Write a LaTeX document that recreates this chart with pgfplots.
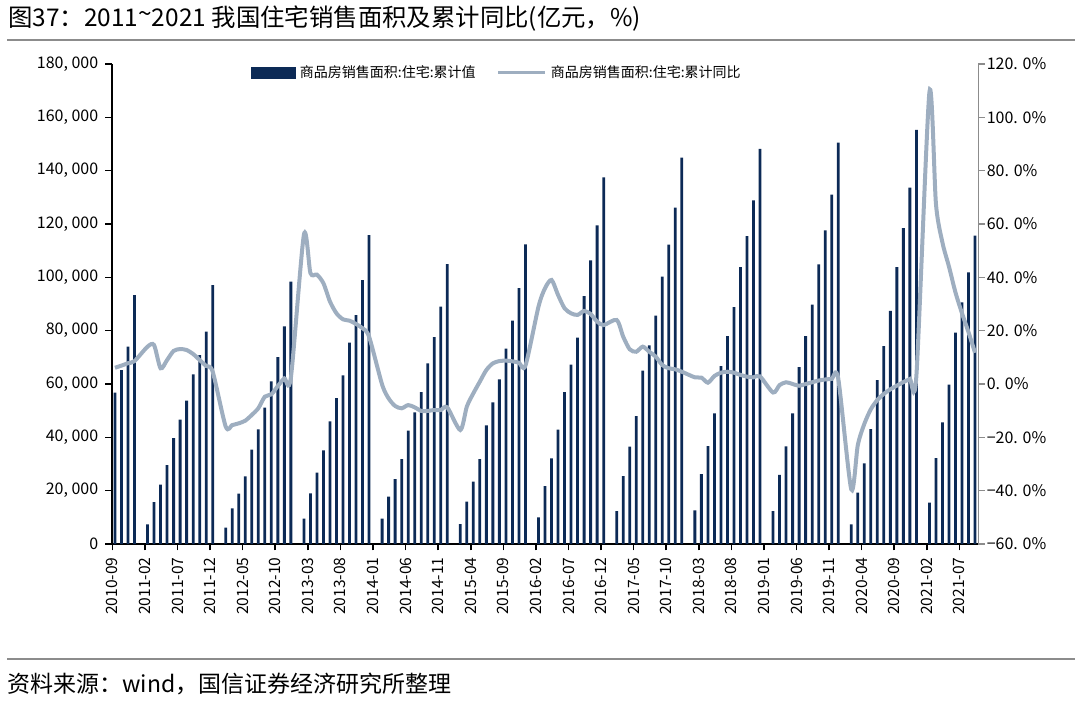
\documentclass[border=0pt]{standalone}
\usepackage{pgfplots}
\pgfplotsset{compat=1.18}
\usepackage{pgfplotstable}
\usepackage{fontspec}
\setmainfont{Noto Sans CJK SC}
\definecolor{barc}{RGB}{12,42,86}
\definecolor{linec}{RGB}{158,174,192}
\definecolor{rulec}{RGB}{140,140,140}

\pgfplotstableread{
idx area yoy
0 56740 6.1
1 65250 6.9
2 74000 7.8
3 93375 8.6
5 7375 14.0
6 15750 14.6
7 22250 5.9
8 29625 9.0
9 39750 12.4
10 46625 13.1
11 53750 12.75
12 63625 11.25
13 70875 9.0
14 79625 6.75
15 97125 4.6
17 6125 -16.0
18 13375 -15.4
19 18875 -14.75
20 25375 -13.75
21 35375 -11.6
22 43000 -9.1
23 51125 -4.75
24 61000 -3.9
25 70125 -0.75
26 81625 2.1
27 98375 2.4
29 9500 56.0
30 19000 41.6
31 26750 41.0
32 35125 37.75
33 46000 30.9
34 54750 26.5
35 63250 24.25
36 75500 23.75
37 85875 22.5
38 99000 20.9
39 115875 17.75
41 9500 -0.2
42 17750 -5.4
43 24375 -8.25
44 31875 -9.1
45 42500 -7.9
46 49375 -8.75
47 57000 -10.1
48 67750 -10.1
49 77600 -9.75
50 89000 -9.75
51 105000 -8.75
53 7500 -17.25
54 15875 -8.5
55 23375 -3.5
56 31875 0.9
57 44500 5.25
58 53125 7.75
59 61750 8.6
60 73250 8.75
61 83750 8.5
62 96000 8.0
63 112375 6.9
65 10000 29.0
66 21750 35.9
67 32125 39.0
68 42875 33.4
69 57000 28.4
70 67250 26.5
71 77375 25.9
72 93000 27.4
73 106375 26.25
74 119500 23.4
75 137500 22.1
77 12375 24.0
78 25500 17.75
79 36500 13.0
80 48000 12.1
81 65000 14.0
82 74500 12.1
83 85625 10.25
84 100250 7.1
85 112250 5.9
86 126125 5.5
87 144875 4.6
89 12625 2.5
90 26250 2.4
91 36750 0.5
92 49000 3.0
93 66750 4.25
94 78000 4.6
95 88875 4.25
96 103800 3.4
97 115500 2.75
98 128900 2.5
99 148200 2.85
101 12300 -3.2
102 25900 -0.4
103 36650 0.65
104 48950 0.0
105 66300 -0.65
106 77950 0.0
107 89750 0.65
108 104900 1.3
109 117600 1.7
110 131050 1.9
111 150500 2.1
113 7400 -39.5
114 19300 -23.0
115 30200 -15.0
116 43100 -9.5
117 61500 -6.0
118 74200 -3.7
119 87400 -2.0
120 103850 -0.6
121 118500 0.7
122 133650 1.9
123 155300 3.2
125 15540 109.5
126 32250 67.5
127 45600 53.0
128 59800 44.0
129 79250 34.3
130 90650 26.5
131 101900 19.4
132 115650 11.7
}\data

\begin{document}
\begin{tikzpicture}
\useasboundingbox (0pt,0pt) rectangle (540pt,351.5pt);
\draw[rulec, line width=1pt] (3.5pt,331.5pt) -- (537.5pt,331.5pt);
\node[anchor=west, font=\fontsize{12.2}{14}\selectfont, inner sep=0pt] at (4pt,342pt) {图37：2011\raisebox{0.35ex}{\textasciitilde}2021 我国住宅销售面积及累计同比(亿元，\%)};
\draw[rulec, line width=1pt] (3.5pt,22pt) -- (537.5pt,22pt);
\node[anchor=west, font=\fontsize{11.5}{13}\selectfont, inner sep=0pt] at (3.5pt,9.5pt) {资料来源：wind，国信证券经济研究所整理};

\begin{axis}[
  at={(55.85pt,79.5pt)}, anchor=south west,
  scale only axis, width=433.3pt, height=240pt,
  xmin=-0.5, xmax=132.5, ymin=0, ymax=180000,
  axis y line*=left, axis x line*=bottom,
  axis line style={black, line width=0.9pt},
  tick align=outside, major tick length=3.2pt,
  tick style={black, line width=0.8pt},
  xtick={-0.4,4.6,9.6,14.6,19.6,24.6,29.6,34.6,39.6,44.6,49.6,54.6,59.6,64.6,69.6,74.6,79.6,84.6,89.6,94.6,99.6,104.6,109.6,114.6,119.6,124.6,129.6},
  xticklabels={2010-09,2011-02,2011-07,2011-12,2012-05,2012-10,2013-03,2013-08,2014-01,2014-06,2014-11,2015-04,2015-09,2016-02,2016-07,2016-12,2017-05,2017-10,2018-03,2018-08,2019-01,2019-06,2019-11,2020-04,2020-09,2021-02,2021-07},
  xticklabel style={rotate=90, anchor=east, font=\fontsize{7.8}{9}\selectfont},
  ytick={0,20000,40000,60000,80000,100000,120000,140000,160000,180000},
  yticklabels={0,{20, 000},{40, 000},{60, 000},{80, 000},{100, 000},{120, 000},{140, 000},{160, 000},{180, 000}},
  yticklabel style={font=\fontsize{8}{9}\selectfont},
  scaled y ticks=false,
]
\addplot[ybar, bar width=1.4pt, bar shift=0pt, fill=barc, draw=none] table[x=idx,y=area]{\data};
\end{axis}

\begin{axis}[
  at={(55.85pt,79.5pt)}, anchor=south west,
  scale only axis, width=433.3pt, height=240pt,
  xmin=-0.5, xmax=132.5, ymin=-60, ymax=120,
  axis y line*=right, axis x line=none,
  axis line style={rulec, line width=0.8pt},
  tick align=outside, major tick length=3.2pt,
  tick style={rulec, line width=0.8pt},
  ytick={-60,-40,-20,0,20,40,60,80,100,120},
  yticklabels={−60. 0\%,−40. 0\%,−20. 0\%,0. 0\%,20. 0\%,40. 0\%,60. 0\%,80. 0\%,100. 0\%,120. 0\%},
  yticklabel style={font=\fontsize{8}{9}\selectfont, anchor=west, xshift=-2.5pt},
  legend columns=2,
  legend style={draw=none, fill=none, at={(0.1535,0.982)}, anchor=west,
    font=\fontsize{7}{9}\selectfont, /tikz/every even column/.append style={column sep=8.5pt}},
]
\addlegendimage{legend image code/.code={\fill[barc] (0pt,-2.75pt) rectangle (22pt,2.75pt);}}
\addlegendentry{商品房销售面积:住宅:累计值}
\addplot[linec, line width=2pt, smooth, tension=0.45, legend image code/.code={\draw[line width=1.6pt] (0pt,0pt) -- (23.5pt,0pt);}] table[x=idx,y=yoy]{\data};
\addlegendentry{商品房销售面积:住宅:累计同比}
\end{axis}
\end{tikzpicture}
\end{document}
